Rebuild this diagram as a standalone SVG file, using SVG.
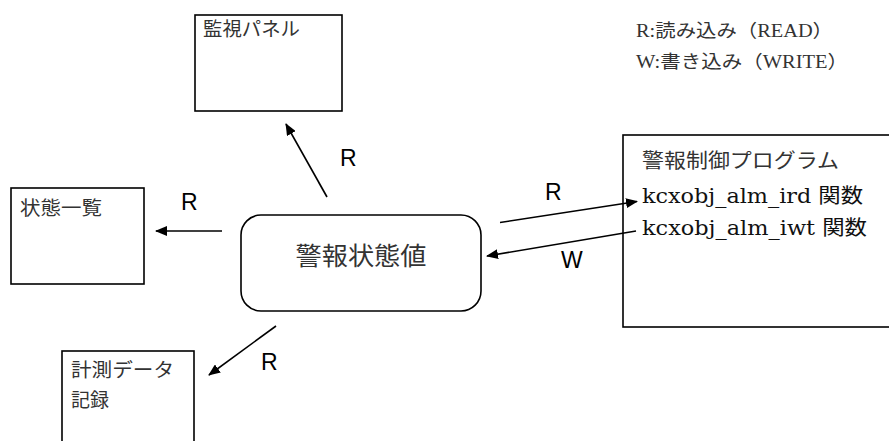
<svg xmlns="http://www.w3.org/2000/svg" width="889" height="441" viewBox="0 0 889 441">
<defs>
<style>
.box{fill:#fff;stroke:#000;stroke-width:1.6}
.lbl{font-family:"Noto Sans CJK JP","Noto Sans",sans-serif;font-size:19px;fill:#333}
.ser{font-family:"Liberation Serif","Noto Sans CJK JP",serif;font-size:18px;fill:#333}
.fn{font-family:"DejaVu Serif","Noto Sans CJK JP",serif;font-size:20px;fill:#111}
.al{font-family:"Liberation Sans",Arial,sans-serif;font-size:23px;fill:#000}
.con{stroke:#000;stroke-width:1.6;fill:none;marker-end:url(#ah)}
</style>
<marker id="ah" viewBox="0 0 12 10" refX="11" refY="5" markerWidth="12" markerHeight="10" markerUnits="userSpaceOnUse" orient="auto">
<path d="M0,0 L12,5 L0,10 z" fill="#000"/>
</marker>
</defs>
<rect width="889" height="441" fill="#fff"/>
<g id="legend">
<text class="ser" x="636" y="37" textLength="197" lengthAdjust="spacingAndGlyphs">R:読み込み（READ）</text>
<text class="ser" x="636" y="68" textLength="212" lengthAdjust="spacingAndGlyphs">W:書き込み（WRITE）</text>
</g>
<g id="node-panel">
<rect class="box" x="195" y="15" width="147" height="96"/>
<text class="lbl" x="203" y="36" textLength="97" lengthAdjust="spacingAndGlyphs">監視パネル</text>
</g>
<g id="node-status-list">
<rect class="box" x="11" y="188" width="133" height="96"/>
<text class="lbl" x="20" y="215" textLength="82" lengthAdjust="spacingAndGlyphs">状態一覧</text>
</g>
<g id="node-alarm-value">
<rect class="box" x="241" y="215" width="240" height="96" rx="20" ry="20"/>
<text x="361" y="265" text-anchor="middle" style="font-family:'Noto Sans CJK JP',sans-serif;font-size:25px;fill:#333" textLength="131" lengthAdjust="spacingAndGlyphs">警報状態値</text>
</g>
<g id="node-program">
<rect class="box" x="623" y="135" width="280" height="192"/>
<text class="ser" style="font-size:20px" x="642" y="168" textLength="197" lengthAdjust="spacingAndGlyphs">警報制御プログラム</text>
<text class="fn" x="642" y="203" textLength="221" lengthAdjust="spacingAndGlyphs">kcxobj_alm_ird 関数</text>
<text class="fn" x="642" y="235" textLength="225" lengthAdjust="spacingAndGlyphs">kcxobj_alm_iwt 関数</text>
</g>
<g id="node-measure">
<rect class="box" x="62" y="351" width="132" height="110"/>
<text class="lbl" x="71" y="377" textLength="103" lengthAdjust="spacingAndGlyphs">計測データ</text>
<text class="lbl" x="71" y="407">記録</text>
</g>
<g id="connectors">
<line class="con" x1="327" y1="197" x2="286" y2="124"/>
<line class="con" x1="222" y1="231" x2="156" y2="231"/>
<line class="con" x1="500" y1="222.5" x2="637" y2="201.5"/>
<line class="con" x1="636" y1="231" x2="487" y2="256"/>
<line class="con" x1="276" y1="326" x2="209" y2="375"/>
</g>
<g id="connector-labels">
<text class="al" x="340" y="166">R</text>
<text class="al" x="181" y="210">R</text>
<text class="al" x="545" y="200">R</text>
<text class="al" x="561" y="268">W</text>
<text class="al" x="261" y="370">R</text>
</g>
</svg>
